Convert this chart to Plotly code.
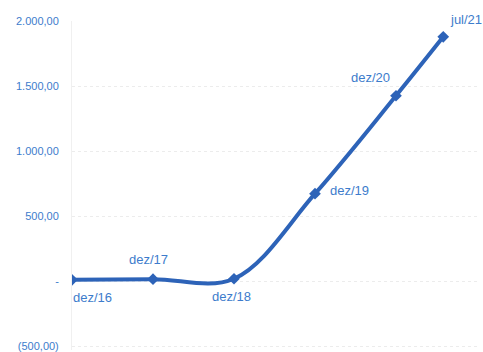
import plotly.graph_objects as go

# Balance series (months counted from dez/16)
periods = ["dez/16", "dez/17", "dez/18", "dez/19", "dez/20", "jul/21"]
months = [0, 12, 24, 36, 48, 55]
values = [10, 15, 18, 672, 1425, 1878]

tick_vals = [-500, 0, 500, 1000, 1500, 2000]
tick_text = ["(500,00)", "-", "500,00", "1.000,00", "1.500,00", "2.000,00"]

line_color = "#2d63b8"
label_color = "#3d7ccc"

fig = go.Figure()
fig.add_trace(go.Scatter(
    x=months, y=values, mode="lines+markers",
    line=dict(color=line_color, width=4, shape="spline", smoothing=1),
    marker=dict(symbol="diamond", size=9, color=line_color),
    hoverinfo="skip",
))

# label offsets (pixels) for each point's period tag
offsets = [(20, -18), (-5, 20), (-3, -18), (34, 3), (-26, 18), (23, 17)]
for m, v, p, (dx, dy) in zip(months, values, periods, offsets):
    fig.add_annotation(x=m, y=v, text=p, showarrow=False,
                       xshift=dx, yshift=dy,
                       font=dict(size=13, color=label_color,
                                 family="Liberation Sans, Arial, sans-serif"))

fig.update_layout(
    width=483, height=352,
    margin=dict(l=72, r=6, t=21, b=0),
    paper_bgcolor="white", plot_bgcolor="white",
    showlegend=False,
    font=dict(family="Liberation Sans, Arial, sans-serif", color=label_color),
)
fig.update_xaxes(range=[0, 60], showgrid=False, zeroline=False,
                 showticklabels=False, showline=False)
fig.update_yaxes(range=[-530, 2000], tickvals=tick_vals, ticktext=tick_text,
                 tickfont=dict(size=11, color=label_color),
                 showgrid=True, gridcolor="#ececec", griddash="dot",
                 zeroline=False, showline=True, linecolor="#f0f0f0",
                 ticklabelstandoff=10, ticklabeloverflow="allow")

fig.write_html("out.html")
